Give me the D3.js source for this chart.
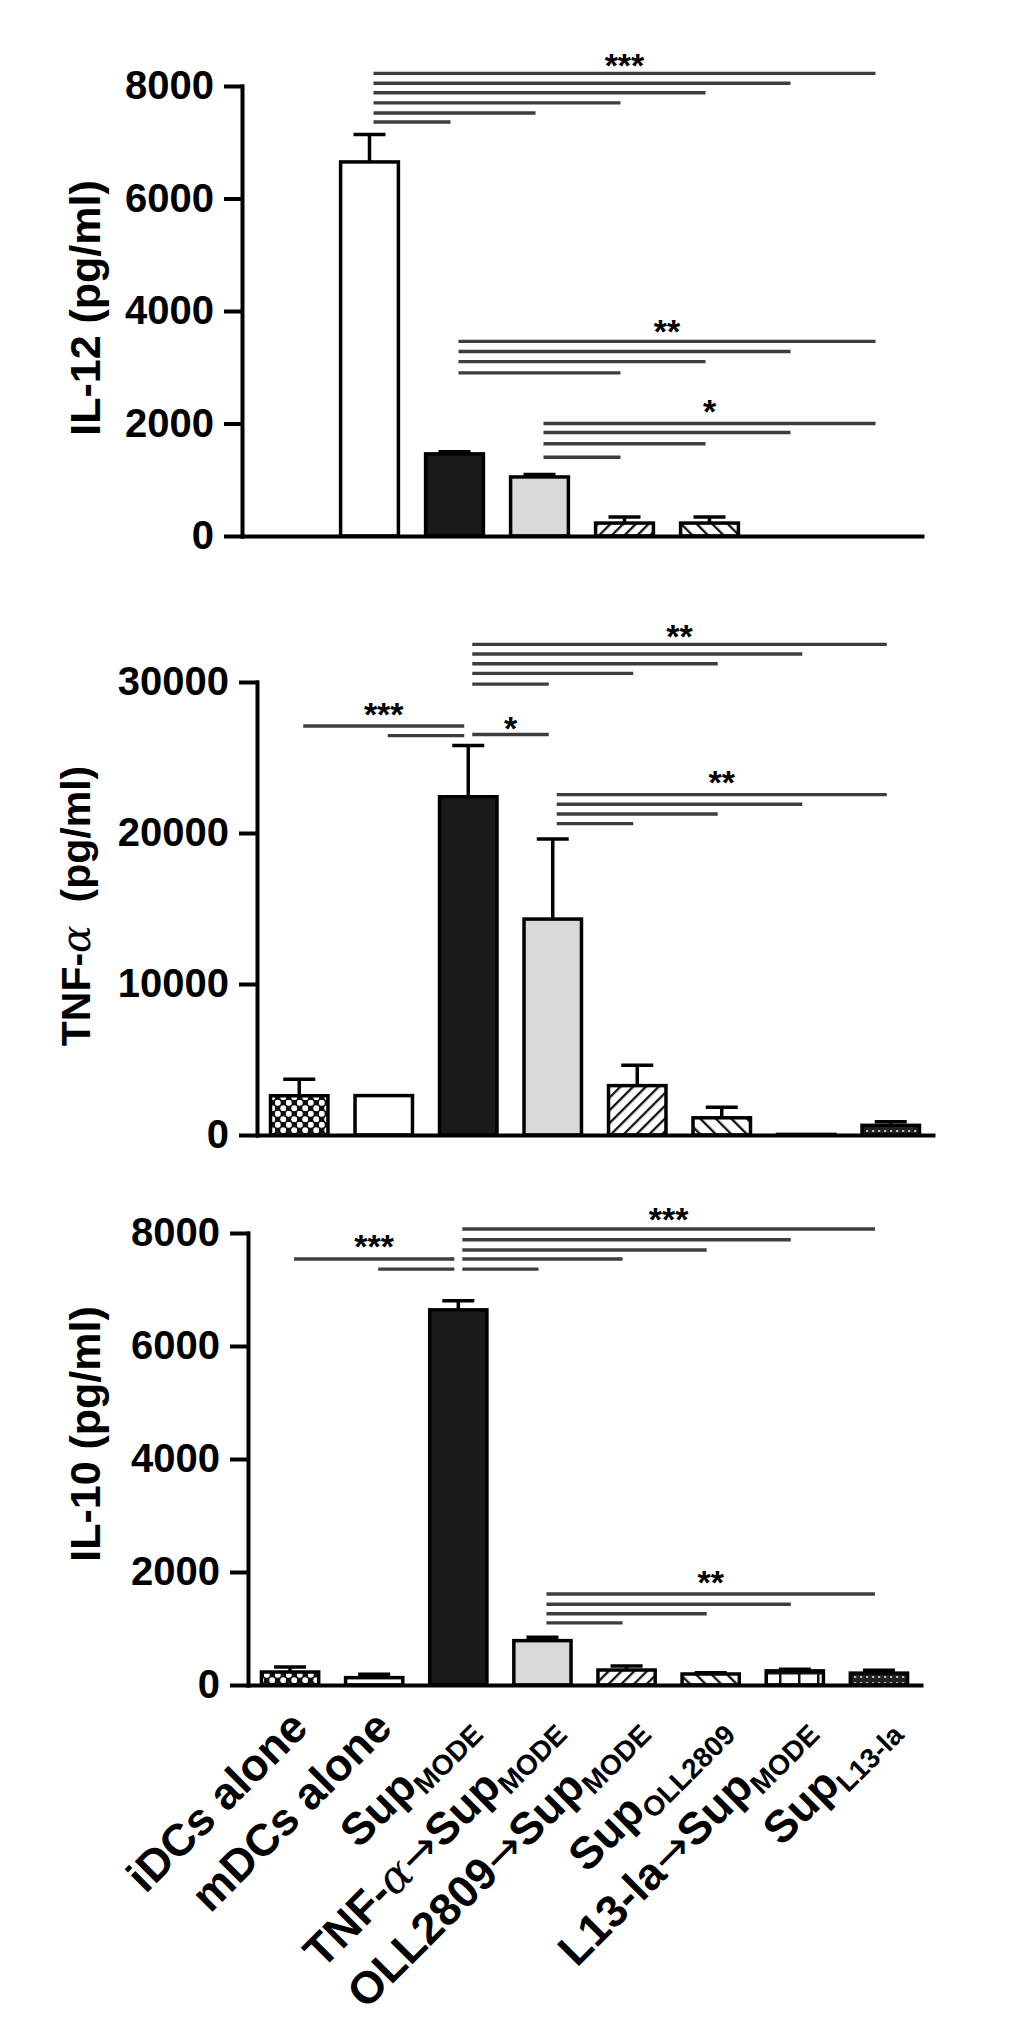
<!DOCTYPE html>
<html lang="en">
<head>
<meta charset="UTF-8" />
<title>IL-12, TNF-α and IL-10 secretion</title>
<script src="https://d3js.org/d3.v7.min.js"></script>
<style>
  html, body { margin: 0; padding: 0; background: #fff; }
  svg { display: block; font-family: "Liberation Sans", Arial, sans-serif; }
</style>
</head>
<body>
<svg id="chart" width="1012" height="2037"></svg>
<script>
  // groups on the x axis (main text + subscript)
  const categories = ["iDCs alone", "mDCs alone", "Sup", "TNF-α→Sup", "OLL2809→Sup", "Sup", "L13-la→Sup", "Sup"];
  const subscripts = ["", "", "MODE", "MODE", "MODE", "OLL2809", "MODE", "L13-la"];

  const il12Ticks = [0, 2000, 4000, 6000, 8000];
  const tnfTicks = [0, 10000, 20000, 30000];
  const il10Ticks = [0, 2000, 4000, 6000, 8000];

  const il12Mean = [null, 6650, 1460, 1050, 230, 230, null, null];
  const il12Err  = [null, 490, 40, 45, 110, 110, null, null];
  const tnfMean  = [2600, 2610, 22400, 14300, 3270, 1140, 40, 640];
  const tnfErr   = [1100, 0, 3400, 5300, 1350, 700, 0, 230];
  const il10Mean = [230, 130, 6640, 785, 265, 195, 250, 210];
  const il10Err  = [90, 60, 160, 60, 70, 20, 30, 50];

  // significance brackets: [from, to, height] + star label
  const il12Sig = [
    { pairs: [[1, 2, 7360], [1, 3, 7520], [1, 4, 7700], [1, 5, 7880], [1, 6, 8050], [1, 7, 8225]], label: "***", labelAt: 8490 },
    { pairs: [[2, 4, 2900], [2, 5, 3100], [2, 6, 3280], [2, 7, 3460]], label: "**", labelAt: 3770 },
    { pairs: [[3, 4, 1400], [3, 5, 1640], [3, 6, 1840], [3, 7, 2000]], label: "*", labelAt: 2340 }
  ];
  const tnfSig = [
    { pairs: [[0, 2, 27090], [1, 2, 26450]], label: "***", labelAt: 28370 },
    { pairs: [[2, 3, 26520]], label: "*", labelAt: 27440 },
    { pairs: [[2, 3, 29860], [2, 4, 30570], [2, 5, 31210], [2, 6, 31850], [2, 7, 32490]], label: "**", labelAt: 33480 },
    { pairs: [[3, 4, 20620], [3, 5, 21260], [3, 6, 21900], [3, 7, 22540]], label: "**", labelAt: 23820 }
  ];
  const il10Sig = [
    { pairs: [[0, 2, 7540], [1, 2, 7360]], label: "***", labelAt: 7890 },
    { pairs: [[2, 3, 7360], [2, 4, 7540], [2, 5, 7700], [2, 6, 7880], [2, 7, 8070]], label: "***", labelAt: 8370 },
    { pairs: [[3, 4, 1100], [3, 5, 1260], [3, 6, 1430], [3, 7, 1610]], label: "**", labelAt: 1950 }
  ];

  const groups = categories.map((c, i) => c + subscripts[i]);
  const fills = ["url(#dots)", "#fff", "#1a1a1a", "#d9d9d9", "url(#hatchUp)", "url(#hatchDown)", "url(#grid)", "url(#fine)"];

  const svg = d3.select("#chart");
  svg.append("rect").attr("width", 1012).attr("height", 2037).attr("fill", "#fff");

  // ---- fill patterns
  const defs = svg.append("defs");
  const dots = defs.append("pattern").attr("id", "dots").attr("patternUnits", "userSpaceOnUse")
    .attr("width", 11).attr("height", 11);
  dots.append("rect").attr("width", 11).attr("height", 11).attr("fill", "#111");
  dots.append("circle").attr("cx", 2.75).attr("cy", 2.75).attr("r", 3).attr("fill", "#fff");
  dots.append("circle").attr("cx", 8.25).attr("cy", 8.25).attr("r", 3).attr("fill", "#fff");

  [["hatchUp", 45, 9], ["hatchDown", -45, 11]].forEach(([id, angle, w]) => {
    const p = defs.append("pattern").attr("id", id).attr("patternUnits", "userSpaceOnUse")
      .attr("width", w).attr("height", w).attr("patternTransform", `rotate(${angle})`);
    p.append("rect").attr("width", w).attr("height", w).attr("fill", "#fff");
    p.append("line").attr("x1", 1).attr("x2", 1).attr("y1", 0).attr("y2", w)
      .attr("stroke", "#111").attr("stroke-width", 2.6);
  });

  const grid = defs.append("pattern").attr("id", "grid").attr("patternUnits", "userSpaceOnUse")
    .attr("width", 19).attr("height", 19);
  grid.append("rect").attr("width", 19).attr("height", 19).attr("fill", "#fff");
  grid.append("path").attr("d", "M1,0V19M0,1H19").attr("stroke", "#111").attr("stroke-width", 3);

  const fine = defs.append("pattern").attr("id", "fine").attr("patternUnits", "userSpaceOnUse")
    .attr("width", 6).attr("height", 6);
  fine.append("rect").attr("width", 6).attr("height", 6).attr("fill", "#222");
  fine.append("rect").attr("x", 2).attr("y", 2).attr("width", 2.2).attr("height", 2).attr("fill", "#bbb");

  // write a string into a <text>, giving α and → their own glyph styles
  function richText(sel, str) {
    str.split(/(α|→)/).filter(s => s !== "").forEach(s => {
      const ts = sel.append("tspan").text(s);
      if (s === "α") ts.attr("font-family", "'DejaVu Serif', serif").attr("font-style", "italic").attr("font-weight", "normal");
      if (s === "→") ts.attr("font-family", "'DejaVu Sans', sans-serif").attr("font-weight", "normal");
    });
  }

  const panels = [
    { mean: il12Mean, err: il12Err, sig: il12Sig, ticks: il12Ticks, x0: 242, x1: 922, yTop: 86, yBase: 536,
      title: "IL-12 (pg/ml)", titleSize: 43, titleX: 100, titleY: 308, labels: false },
    { mean: tnfMean, err: tnfErr, sig: tnfSig, ticks: tnfTicks, x0: 257, x1: 933, yTop: 682, yBase: 1135,
      title: "TNF-α\u00a0\u00a0(pg/ml)", titleSize: 41, titleX: 90, titleY: 906, labels: false },
    { mean: il10Mean, err: il10Err, sig: il10Sig, ticks: il10Ticks, x0: 248, x1: 921, yTop: 1233, yBase: 1685,
      title: "IL-10 (pg/ml)", titleSize: 43, titleX: 100, titleY: 1434, labels: true }
  ];

  panels.forEach(p => {
    const g = svg.append("g");
    const x = d3.scaleBand().domain(groups).range([p.x0, p.x1]).paddingInner(0.32).paddingOuter(0.16);
    const y = d3.scaleLinear().domain([0, d3.max(p.ticks)]).range([p.yBase, p.yTop]);
    const cx = i => x(groups[i]) + x.bandwidth() / 2;

    const rows = groups.map((k, i) => ({ k, i, v: p.mean[i], e: p.err[i] })).filter(d => d.v != null);

    // bars
    g.append("g").selectAll("rect").data(rows).join("rect")
      .attr("x", d => x(d.k)).attr("width", x.bandwidth())
      .attr("y", d => y(d.v)).attr("height", d => y(0) - y(d.v))
      .attr("fill", d => fills[d.i]).attr("stroke", "#000").attr("stroke-width", 3.5);

    // error bars (upper only)
    const eb = g.append("g").attr("stroke", "#000").attr("stroke-width", 3.5)
      .selectAll("g").data(rows.filter(d => d.e > 0)).join("g");
    eb.append("line").attr("x1", d => cx(d.i)).attr("x2", d => cx(d.i))
      .attr("y1", d => y(d.v)).attr("y2", d => y(d.v + d.e));
    eb.append("line").attr("x1", d => cx(d.i) - 16).attr("x2", d => cx(d.i) + 16)
      .attr("y1", d => y(d.v + d.e)).attr("y2", d => y(d.v + d.e));

    // axes
    const ya = g.append("g").attr("transform", `translate(${p.x0},0)`)
      .call(d3.axisLeft(y).tickValues(p.ticks).tickSize(16).tickPadding(12).tickSizeOuter(0).tickFormat(d3.format("d")));
    ya.selectAll("path, line").attr("stroke", "#000").attr("stroke-width", 4).attr("stroke-linecap", "square");
    ya.selectAll("text").attr("font-size", 40).attr("font-weight", "bold").attr("fill", "#000")
      .attr("font-family", "'Liberation Sans', Arial, sans-serif");

    const xa = g.append("g").attr("transform", `translate(0,${p.yBase})`)
      .call(d3.axisBottom(x).tickSize(0).tickSizeOuter(0).tickFormat(""));
    xa.select(".domain").attr("stroke", "#000").attr("stroke-width", 4).attr("stroke-linecap", "square");

    // significance brackets
    p.sig.forEach(s => {
      g.append("g").selectAll("line").data(s.pairs).join("line")
        .attr("x1", d => cx(d[0]) + 4).attr("x2", d => cx(d[1]) - 4)
        .attr("y1", d => y(d[2])).attr("y2", d => y(d[2]))
        .attr("stroke", "#3d3d3d").attr("stroke-width", 3.4);
      const longest = s.pairs.reduce((a, b) => (cx(b[1]) - cx(b[0]) > cx(a[1]) - cx(a[0]) ? b : a));
      g.append("text")
        .attr("x", (cx(longest[0]) + cx(longest[1])) / 2)
        .attr("y", y(s.labelAt) + 19)
        .attr("text-anchor", "middle").attr("font-size", 34).attr("font-weight", "bold")
        .text(s.label);
    });

    // y title
    const t = g.append("text")
      .attr("transform", `translate(${p.titleX},${p.titleY}) rotate(-90)`)
      .attr("text-anchor", "middle").attr("font-size", p.titleSize).attr("font-weight", "bold");
    richText(t, p.title);

    // category labels under the last panel
    if (p.labels) {
      const lab = g.append("g").selectAll("text").data(groups).join("text")
        .attr("transform", (d, i) => `translate(${cx(i) + 20},${p.yBase + 45}) rotate(-45)`)
        .attr("text-anchor", "end").attr("font-size", 45).attr("font-weight", "bold");
      lab.each(function (d, i) {
        const sel = d3.select(this);
        richText(sel, categories[i]);
        if (subscripts[i]) sel.append("tspan").attr("font-size", 28).attr("dy", 9).text(subscripts[i]);
      });
    }
  });
</script>
</body>
</html>
